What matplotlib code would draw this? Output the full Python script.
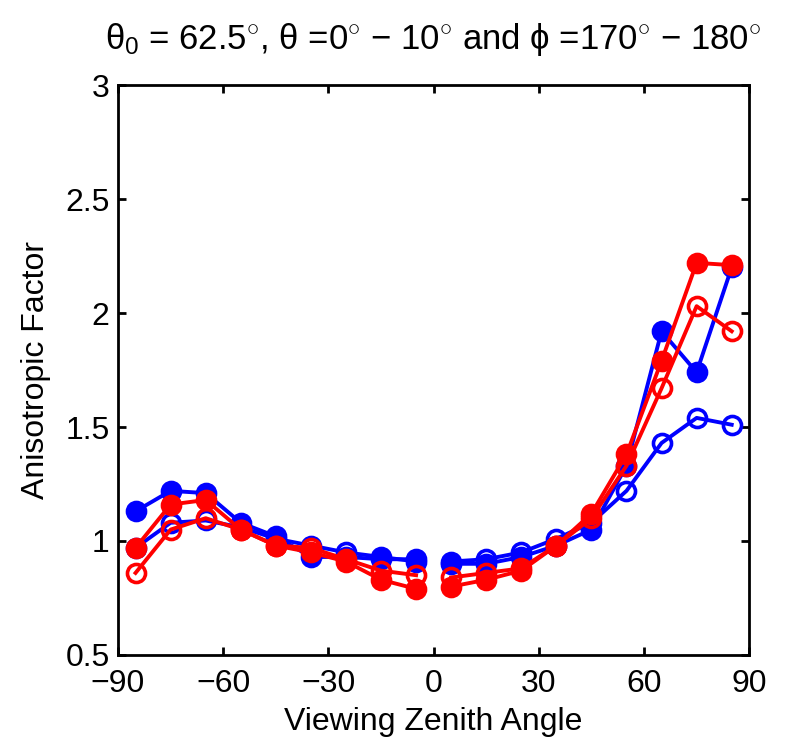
import numpy as np
from matplotlib import pyplot as plt

plt.rcParams['font.family'] = ['Liberation Sans', 'DejaVu Sans']
plt.rcParams['mathtext.fontset'] = 'custom'
plt.rcParams['mathtext.rm'] = 'Liberation Sans'
plt.rcParams['mathtext.it'] = 'Liberation Sans'

# viewing zenith angles, left half and right half are drawn as separate lines
vza_left = [-85, -75, -65, -55, -45, -35, -25, -15, -5]
vza_right = [5, 15, 25, 35, 45, 55, 65, 75, 85]

blue_filled = [1.13, 1.22, 1.21, 1.08, 1.02, 0.93, 0.93, 0.92, 0.92,
               0.90, 0.90, 0.93, 0.98, 1.05, 1.33, 1.92, 1.74, 2.20]
blue_open = [0.97, 1.08, 1.09, 1.06, 1.01, 0.98, 0.95, 0.93, 0.91,
             0.91, 0.92, 0.95, 1.01, 1.08, 1.22, 1.43, 1.54, 1.51]
red_filled = [0.97, 1.16, 1.18, 1.05, 0.98, 0.95, 0.91, 0.83, 0.79,
              0.80, 0.83, 0.87, 0.98, 1.12, 1.38, 1.79, 2.22, 2.21]
red_open = [0.86, 1.05, 1.10, 1.05, 0.98, 0.97, 0.92, 0.87, 0.85,
            0.84, 0.86, 0.88, 0.98, 1.10, 1.33, 1.67, 2.03, 1.92]

series = [
    (blue_filled, 'blue', True),
    (blue_open, 'blue', False),
    (red_filled, 'red', True),
    (red_open, 'red', False),
]

fig = plt.figure(figsize=(7.92, 7.46), dpi=100)
ax = fig.add_axes([0.149, 0.122, 0.797, 0.764])

n = len(vza_left)
for vals, col, filled in series:
    for xs, ys in ((vza_left, vals[:n]), (vza_right, vals[n:])):
        ax.plot(xs, ys, '-o', color=col, lw=2.8, ms=13, mew=2.6,
                mfc=col if filled else 'none', mec=col)

ax.set_xlim(-90, 90)
ax.set_ylim(0.5, 3)
ax.set_xticks([-90, -60, -30, 0, 30, 60, 90])
ax.set_xticklabels(['\u221290', '\u221260', '\u221230', '0', '30', '60', '90'])
ax.set_yticks([0.5, 1, 1.5, 2, 2.5, 3])
ax.set_yticklabels(['0.5', '1', '1.5', '2', '2.5', '3'])
ax.tick_params(direction='in', length=6, width=2, top=True, right=True,
               labelsize=23)
ax.tick_params(axis='x', pad=10)
ax.tick_params(axis='y', pad=6)
for s in ax.spines.values():
    s.set_linewidth(2)

ax.set_xlabel('Viewing Zenith Angle', fontsize=23, labelpad=6)
ax.set_ylabel('Anisotropic Factor', fontsize=23, labelpad=10)
ax.set_title(r'$\theta_0$ = 62.5$^{\circ}$, $\theta$ =0$^{\circ}$ $-$ 10$^{\circ}$ and '
             r'$\phi$ =170$^{\circ}$ $-$ 180$^{\circ}$', fontsize=25, pad=26)

fig.savefig('out.png', dpi=100)
